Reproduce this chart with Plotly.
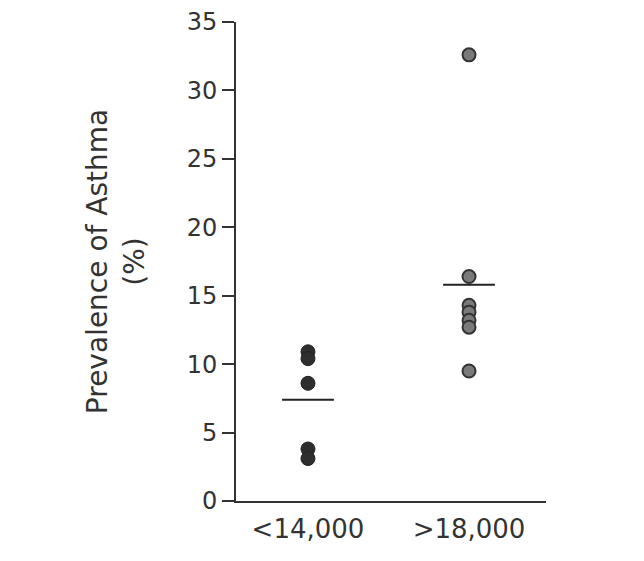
import plotly.graph_objects as go

categories = ["<14,000", ">18,000"]
low_income_values = [10.9, 10.4, 8.6, 3.8, 3.1]
high_income_values = [32.6, 16.4, 14.3, 13.8, 13.2, 12.7, 9.5]
means = [7.4, 15.8]
y_ticks = [0, 5, 10, 15, 20, 25, 30, 35]

fig = go.Figure()
fig.add_trace(go.Scatter(
    x=[0] * len(low_income_values), y=low_income_values, mode="markers",
    marker=dict(size=14, color="#2e2e2e", line=dict(color="#222", width=1)),
    showlegend=False))
fig.add_trace(go.Scatter(
    x=[1] * len(high_income_values), y=high_income_values, mode="markers",
    marker=dict(size=13, color="#7a7a7a", line=dict(color="#333", width=2)),
    showlegend=False))
fig.add_trace(go.Scatter(
    x=[0, 1], y=means, mode="markers",
    marker=dict(symbol="line-ew", size=37, line=dict(color="#222", width=2)),
    showlegend=False))

fig.update_layout(
    width=644, height=561,
    margin=dict(l=228, r=106, t=14, b=68),
    paper_bgcolor="white", plot_bgcolor="white",
    font=dict(family="DejaVu Sans, sans-serif", color="#333"),
    xaxis=dict(
        range=[-0.447, 1.478], tickmode="array", tickvals=[0, 1], ticktext=categories,
        showgrid=False, zeroline=False, showline=True, linecolor="#333", linewidth=2,
        ticks="", tickfont=dict(size=26), ticklabelstandoff=4, automargin=False),
    yaxis=dict(
        range=[0, 35], tickvals=y_ticks, showgrid=False, zeroline=False,
        showline=True, linecolor="#333", linewidth=2, ticks="outside", ticklen=12,
        tickwidth=2, tickcolor="#333", tickfont=dict(size=24), automargin=False,
        title=dict(text="Prevalence of Asthma<br>(%)", font=dict(size=28), standoff=34)),
)
fig.write_html("out.html")
